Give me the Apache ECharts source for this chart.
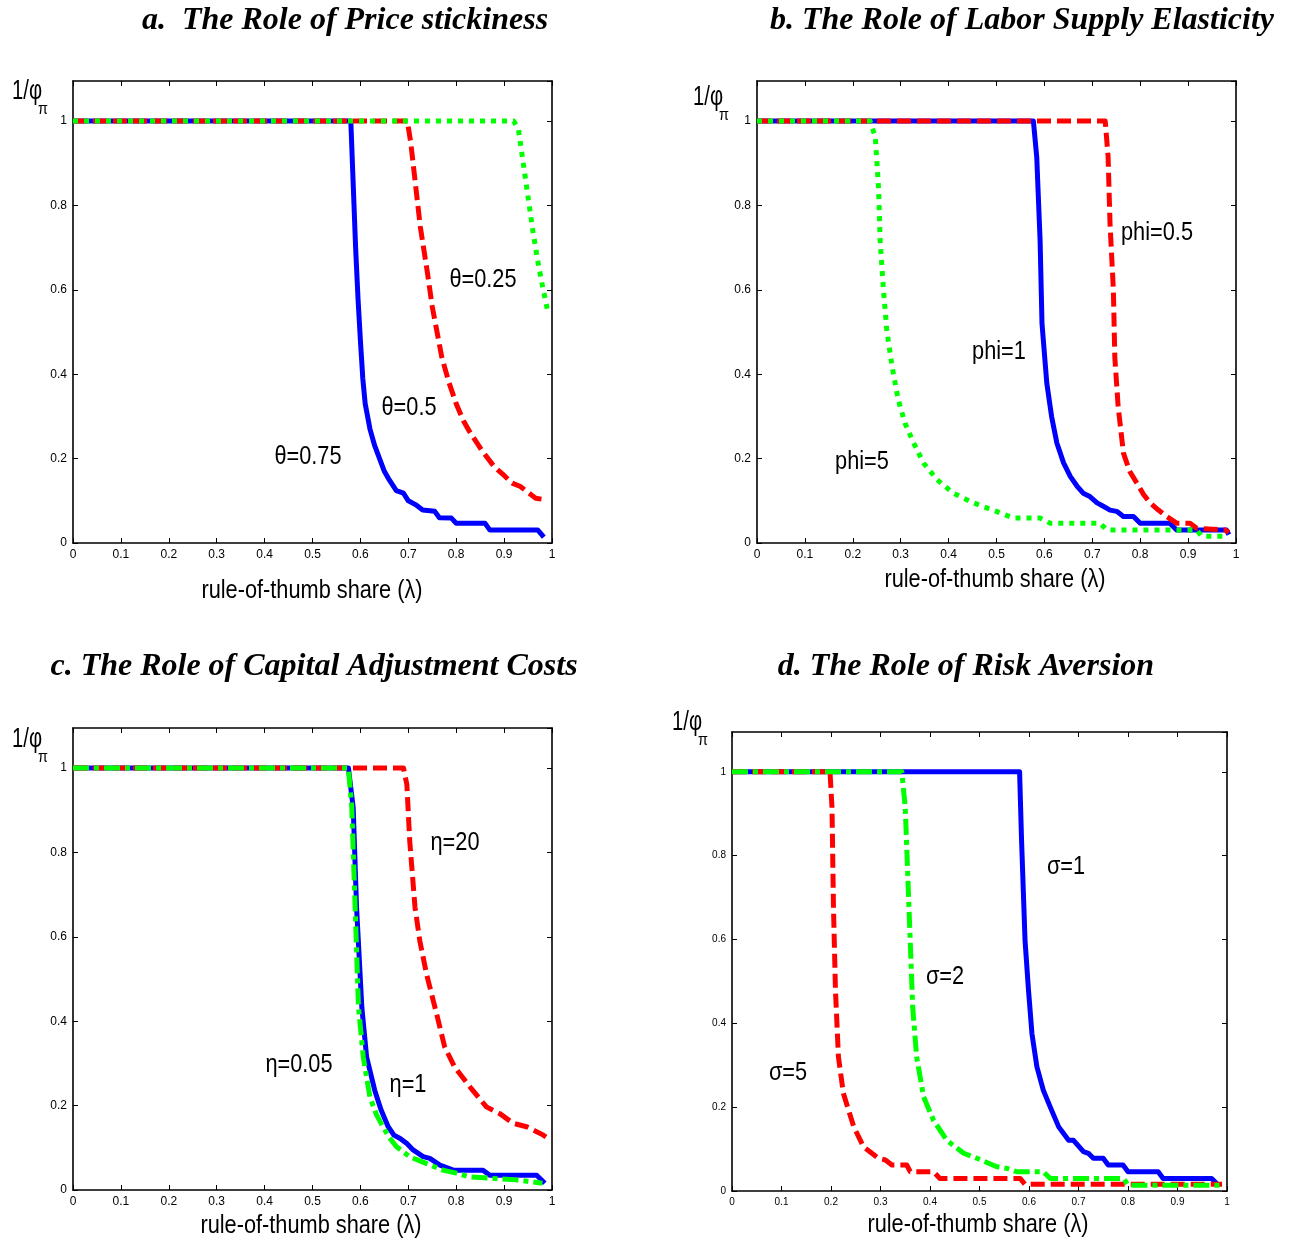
<!DOCTYPE html>
<html><head><meta charset="utf-8">
<script src="https://cdn.jsdelivr.net/npm/echarts@6/dist/echarts.min.js"></script>
<style>html,body{margin:0;padding:0;background:#fff}#c{width:1291px;height:1245px}</style>
</head><body><div id="c"></div>
<script>
// ---------- DATA (rule-of-thumb share λ, 1/φπ) ----------
// Panel a: price stickiness
const aLamBlue = [0, 0.58, 0.585, 0.59, 0.595, 0.6, 0.605, 0.61, 0.62, 0.63, 0.64, 0.65, 0.66, 0.675, 0.69, 0.70, 0.715, 0.73, 0.755, 0.765, 0.79, 0.80, 0.86, 0.87, 0.97, 0.983];
const aValBlue = [1, 1, 0.85, 0.7, 0.58, 0.48, 0.39, 0.33, 0.27, 0.23, 0.2, 0.17, 0.15, 0.124, 0.118, 0.1, 0.091, 0.078, 0.075, 0.06, 0.059, 0.047, 0.047, 0.031, 0.031, 0.014];
const aLamRed = [0, 0.698, 0.705, 0.715, 0.725, 0.74, 0.75, 0.76, 0.77, 0.785, 0.80, 0.815, 0.83, 0.855, 0.88, 0.9, 0.917, 0.934, 0.952, 0.966, 0.978];
const aValRed = [1, 1, 0.95, 0.85, 0.75, 0.64, 0.56, 0.5, 0.44, 0.38, 0.33, 0.29, 0.26, 0.217, 0.18, 0.16, 0.142, 0.134, 0.118, 0.106, 0.104];
const aLamGreen = [0, 0.92, 0.93, 0.94, 0.95, 0.96, 0.97, 0.98, 0.99];
const aValGreen = [1, 1, 0.98, 0.9, 0.82, 0.74, 0.67, 0.61, 0.555];
// Panel b: labor supply elasticity
const bLamBlue = [0, 0.577, 0.584, 0.591, 0.595, 0.605, 0.615, 0.626, 0.64, 0.654, 0.668, 0.681, 0.695, 0.71, 0.723, 0.737, 0.751, 0.765, 0.786, 0.8, 0.862, 0.876, 0.98, 0.985];
const bValBlue = [1, 1, 0.915, 0.718, 0.52, 0.379, 0.3, 0.237, 0.19, 0.158, 0.135, 0.118, 0.11, 0.095, 0.087, 0.078, 0.075, 0.063, 0.063, 0.047, 0.047, 0.031, 0.031, 0.02];
const bLamRed = [0, 0.727, 0.733, 0.737, 0.744, 0.747, 0.754, 0.765, 0.778, 0.793, 0.807, 0.821, 0.838, 0.855, 0.876, 0.904, 0.918, 0.977, 0.985];
const bValRed = [1, 1, 0.915, 0.757, 0.6, 0.44, 0.323, 0.213, 0.17, 0.142, 0.115, 0.095, 0.078, 0.063, 0.047, 0.047, 0.035, 0.031, 0.025];
const bLamGreen = [0, 0.236, 0.247, 0.254, 0.257, 0.264, 0.271, 0.282, 0.295, 0.309, 0.327, 0.348, 0.376, 0.41, 0.452, 0.48, 0.5, 0.535, 0.591, 0.612, 0.716, 0.73, 0.918, 0.928, 0.984];
const bValGreen = [1, 1, 0.962, 0.836, 0.718, 0.6, 0.504, 0.418, 0.339, 0.284, 0.237, 0.189, 0.15, 0.118, 0.095, 0.083, 0.075, 0.059, 0.059, 0.047, 0.047, 0.031, 0.031, 0.016, 0.016];
// Panel c: capital adjustment costs
const cLamBlue = [0, 0.575, 0.585, 0.592, 0.603, 0.613, 0.63, 0.643, 0.658, 0.67, 0.683, 0.697, 0.71, 0.731, 0.745, 0.766, 0.794, 0.856, 0.87, 0.968, 0.985];
const cValBlue = [1, 1, 0.906, 0.67, 0.433, 0.315, 0.236, 0.19, 0.15, 0.13, 0.122, 0.11, 0.095, 0.079, 0.075, 0.059, 0.047, 0.047, 0.035, 0.035, 0.016];
const cLamRed = [0, 0.69, 0.697, 0.703, 0.714, 0.724, 0.738, 0.759, 0.776, 0.797, 0.829, 0.863, 0.891, 0.919, 0.947, 0.965, 0.982, 0.988];
const cValRed = [1, 1, 0.961, 0.827, 0.67, 0.591, 0.512, 0.418, 0.339, 0.291, 0.244, 0.197, 0.181, 0.158, 0.15, 0.14, 0.13, 0.125];
const cLamGreen = [0, 0.575, 0.582, 0.589, 0.596, 0.606, 0.62, 0.633, 0.647, 0.66, 0.675, 0.703, 0.737, 0.772, 0.8, 0.828, 0.925, 0.98];
const cValGreen = [1, 1, 0.906, 0.67, 0.433, 0.315, 0.22, 0.18, 0.15, 0.125, 0.103, 0.079, 0.063, 0.047, 0.04, 0.031, 0.024, 0.016];
// Panel d: risk aversion
const dLamBlue = [0, 0.581, 0.585, 0.592, 0.599, 0.606, 0.616, 0.629, 0.643, 0.66, 0.68, 0.69, 0.71, 0.72, 0.73, 0.75, 0.76, 0.79, 0.8, 0.861, 0.871, 0.969, 0.979];
const dValBlue = [1, 1, 0.836, 0.598, 0.479, 0.375, 0.296, 0.24, 0.2, 0.153, 0.121, 0.121, 0.094, 0.09, 0.078, 0.078, 0.062, 0.062, 0.046, 0.046, 0.03, 0.03, 0.018];
const dLamRed = [0, 0.198, 0.202, 0.205, 0.209, 0.215, 0.225, 0.246, 0.266, 0.296, 0.31, 0.323, 0.353, 0.36, 0.407, 0.42, 0.582, 0.592, 0.99];
const dValRed = [1, 1, 0.915, 0.677, 0.479, 0.32, 0.233, 0.153, 0.105, 0.078, 0.074, 0.062, 0.062, 0.046, 0.046, 0.03, 0.03, 0.016, 0.016];
const dLamGreen = [0, 0.343, 0.35, 0.355, 0.36, 0.365, 0.373, 0.387, 0.407, 0.434, 0.468, 0.495, 0.535, 0.555, 0.575, 0.629, 0.643, 0.791, 0.8, 0.99];
const dValGreen = [1, 1, 0.915, 0.756, 0.598, 0.439, 0.32, 0.225, 0.169, 0.121, 0.09, 0.078, 0.058, 0.054, 0.046, 0.046, 0.03, 0.03, 0.014, 0.014];

const titles = ['a.  The Role of Price stickiness', 'b. The Role of Labor Supply Elasticity', 'c. The Role of Capital Adjustment Costs', 'd. The Role of Risk Aversion'];
const xTitle = 'rule-of-thumb share (λ)';
const curveLabels = [
  ['θ=0.75', 'θ=0.5', 'θ=0.25'],
  ['phi=1', 'phi=0.5', 'phi=5'],
  ['η=1', 'η=20', 'η=0.05'],
  ['σ=1', 'σ=5', 'σ=2']
];

// ---------- CHART ----------
const SANS = "'Liberation Sans',Arial,sans-serif";
const SERIF = "'Liberation Serif','DejaVu Serif',serif";
const pts = (xs, ys) => xs.map((x, i) => [x, ys[i]]);

const grids = [
  {left: 73, top: 81, width: 479, height: 462},
  {left: 757, top: 81, width: 479, height: 462},
  {left: 73, top: 728, width: 479, height: 462},
  {left: 732, top: 732, width: 495, height: 459}
];
const tickFont = [12, 12, 12, 10];

const xAxis = [], yAxis = [];
grids.forEach((g, i) => {
  const common = {
    type: 'value', gridIndex: i, min: 0,
    axisLine: {show: true, onZero: false, lineStyle: {color: '#000', width: 1.6}},
    axisTick: {show: true, inside: true, length: 5, lineStyle: {color: '#000', width: 1}},
    splitLine: {show: false}
  };
  xAxis.push(Object.assign({}, common, {position: 'bottom', max: 1, interval: 0.1,
    axisLabel: {show: true, color: '#000', fontSize: tickFont[i], fontFamily: SANS, margin: 6,
      formatter: v => (Math.round(v * 10) / 10).toString()}}));
  xAxis.push(Object.assign({}, common, {position: 'top', max: 1, interval: 0.1, axisLabel: {show: false}}));
  yAxis.push(Object.assign({}, common, {position: 'left', max: 1.095, interval: 0.2,
    axisLabel: {show: true, color: '#000', fontSize: tickFont[i], fontFamily: SANS, margin: 6, showMaxLabel: false,
      formatter: v => Math.abs(v * 5 - Math.round(v * 5)) < 1e-6 ? (Math.round(v * 10) / 10).toString() : ''}}));
  yAxis.push(Object.assign({}, common, {position: 'right', max: 1.095, interval: 0.2, axisLabel: {show: false}}));
});

const BLUE = {color: '#0000ff', width: 5, type: 'solid'};
const RED = {color: '#ff0000', width: 5, type: [14, 6]};
const GDOT = {color: '#00ff00', width: 5, type: [5, 6]};
const GDASHDOT = {color: '#00ff00', width: 5, type: [16, 5, 5, 5]};

function line(i, xs, ys, st) {
  return {
    type: 'line', xAxisIndex: 2 * i, yAxisIndex: 2 * i, data: pts(xs, ys),
    symbol: 'none', showSymbol: false, silent: true,
    lineStyle: Object.assign({cap: 'butt', join: 'round'}, st), z: 3
  };
}
const series = [
  line(0, aLamBlue, aValBlue, BLUE), line(0, aLamRed, aValRed, RED), line(0, aLamGreen, aValGreen, GDOT),
  line(1, bLamBlue, bValBlue, BLUE), line(1, bLamRed, bValRed, RED), line(1, bLamGreen, bValGreen, GDOT),
  line(2, cLamBlue, cValBlue, BLUE), line(2, cLamRed, cValRed, RED), line(2, cLamGreen, cValGreen, GDASHDOT),
  line(3, dLamBlue, dValBlue, BLUE), line(3, dLamRed, dValRed, RED), line(3, dLamGreen, dValGreen, GDASHDOT)
];

function txt(x, y, text, font, align, sx) {
  return {type: 'text', x: x, y: y, silent: true, scaleX: sx || 1,
    style: {text: text, font: font, fill: '#000', align: align || 'center', verticalAlign: 'middle'}};
}
const graphic = [];
// panel titles
const titlePos = [[345, 21], [1022, 21], [314, 667], [966, 667]];
titles.forEach((t, i) => graphic.push(txt(titlePos[i][0], titlePos[i][1], t, 'italic bold 32px ' + SERIF)));
// x-axis titles
const xtPos = [[312, 591], [995, 580], [311, 1226], [978, 1225]];
xtPos.forEach(p => graphic.push(txt(p[0], p[1], xTitle, '25px ' + SANS, 'center', 0.87)));
// y-axis titles 1/φ_π
const ytPos = [[12, 92], [693, 98], [12, 740], [672, 723]];
ytPos.forEach(p => {
  graphic.push(txt(p[0], p[1], '1/φ', '27px ' + SANS, 'left', 0.75));
  graphic.push(txt(p[0] + 26, p[1] + 17, 'π', '17px ' + SANS, 'left', 0.85));
});
// curve labels
const clPos = [
  [[308, 457], [409, 408], [483, 280]],
  [[999, 352], [1157, 233], [862, 462]],
  [[408, 1085], [455, 843], [299, 1065]],
  [[1066, 867], [788, 1073], [945, 977]]
];
curveLabels.forEach((arr, i) => arr.forEach((t, j) =>
  graphic.push(txt(clPos[i][j][0], clPos[i][j][1], t, '25px ' + SANS, 'center', 0.87))));

const chart = echarts.init(document.getElementById('c'), null, {renderer: 'canvas'});
chart.setOption({
  animation: false,
  backgroundColor: '#fff',
  grid: grids.map(g => Object.assign({containLabel: false, show: false}, g)),
  xAxis: xAxis, yAxis: yAxis, series: series, graphic: graphic
});
</script></body></html>
